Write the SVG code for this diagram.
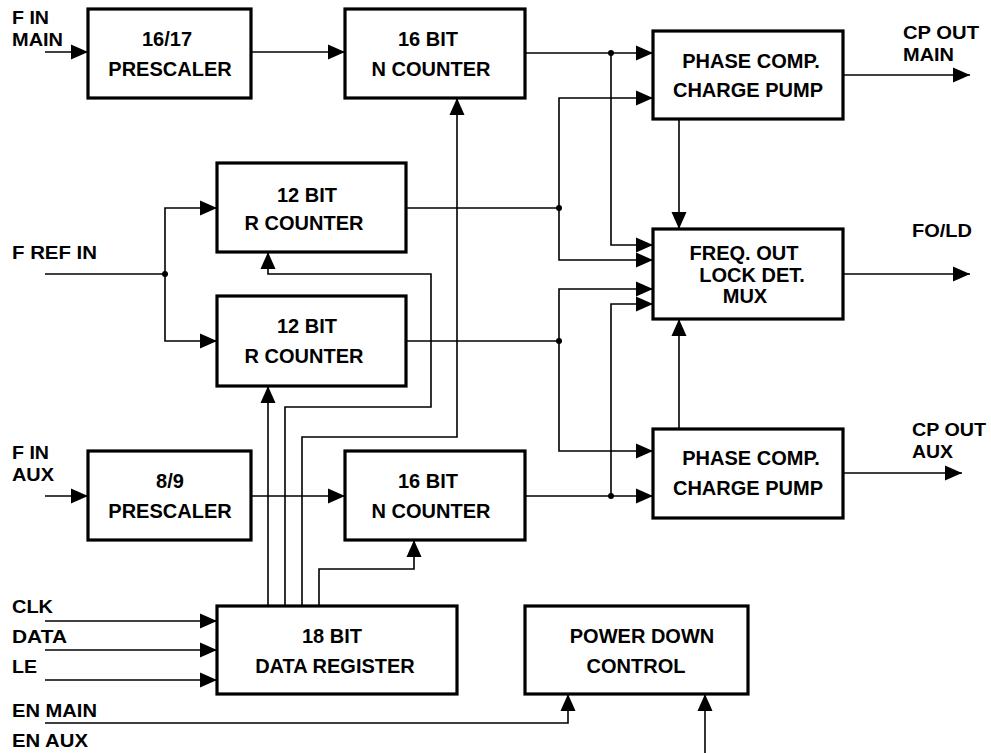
<svg xmlns="http://www.w3.org/2000/svg" width="991" height="753" viewBox="0 0 991 753">
<style>
.box{fill:#fff;stroke:#000;stroke-width:3.2}
.t{font-family:"Liberation Sans",Arial,sans-serif;font-weight:bold;font-size:20px;text-anchor:middle;fill:#000}
.l{font-family:"Liberation Sans",Arial,sans-serif;font-weight:bold;font-size:17.5px;fill:#000}
.w{fill:none;stroke:#000;stroke-width:1.6}
.a{marker-end:url(#ah)}
</style>
<defs>
<marker id="ah" markerUnits="userSpaceOnUse" markerWidth="17" markerHeight="16" refX="17" refY="7.5" orient="auto" viewBox="0 0 17 15">
<path d="M0,0 L17,7.5 L0,15 z" fill="#000"/>
</marker>
</defs>
<rect width="991" height="753" fill="#fff"/>

<g id="connectors">
<!-- inputs -->
<path class="w a" d="M45,52 H88"/>
<path class="w a" d="M251,52 H345"/>
<path class="w" d="M45,274 H165"/>
<path class="w a" d="M165,274 V208 H217"/>
<path class="w a" d="M165,274 V341 H217"/>
<path class="w a" d="M45,496 H88"/>
<path class="w a" d="M251,496 H345"/>
<path class="w a" d="M45,621 H217"/>
<path class="w a" d="M45,650 H217"/>
<path class="w a" d="M45,680 H217"/>
<!-- data register outputs -->
<path class="w a" d="M268,606 V386"/>
<path class="w a" d="M285,606 V407 H431 V274 H268 V252"/>
<path class="w a" d="M302,606 V437 H457 V98"/>
<path class="w a" d="M319,606 V569 H414 V540"/>
<!-- power down -->
<path class="w a" d="M45,723 H568 V694"/>
<path class="w a" d="M705,753 V694"/>
<!-- N counter main to phase comp -->
<path class="w a" d="M525,53 H653"/>
<path class="w a" d="M611,53 V245 H653"/>
<!-- R counter 1 -->
<path class="w" d="M406,208 H559"/>
<path class="w a" d="M559,208 V98 H653"/>
<path class="w a" d="M559,208 V260 H653"/>
<!-- R counter 2 -->
<path class="w" d="M406,341 H559"/>
<path class="w a" d="M559,341 V289 H653"/>
<path class="w a" d="M559,341 V451 H653"/>
<!-- N counter aux -->
<path class="w a" d="M525,496 H653"/>
<path class="w a" d="M611,496 V304 H653"/>
<!-- phase comps to freq out -->
<path class="w a" d="M679,119 V229"/>
<path class="w a" d="M679,429 V319"/>
<!-- outputs -->
<path class="w a" d="M843,75 H970"/>
<path class="w a" d="M843,274 H970"/>
<path class="w a" d="M843,473 H962"/>
<!-- junction dots -->
<circle cx="165" cy="274" r="3"/>
<circle cx="611" cy="53" r="3"/>
<circle cx="559" cy="208" r="3"/>
<circle cx="559" cy="341" r="3"/>
<circle cx="611" cy="496" r="3"/>
</g>

<g id="prescaler-main">
<rect class="box" x="88" y="9" width="163" height="89"/>
<text class="t" x="167" y="46">16/17</text>
<text class="t" x="170" y="76">PRESCALER</text>
</g>
<g id="ncounter-main">
<rect class="box" x="345" y="9" width="180" height="89"/>
<text class="t" x="428" y="46">16 BIT</text>
<text class="t" x="431" y="76">N COUNTER</text>
</g>
<g id="rcounter-1">
<rect class="box" x="217" y="163" width="189" height="89"/>
<text class="t" x="307" y="202">12 BIT</text>
<text class="t" x="304" y="230">R COUNTER</text>
</g>
<g id="rcounter-2">
<rect class="box" x="217" y="296" width="189" height="90"/>
<text class="t" x="307" y="333">12 BIT</text>
<text class="t" x="304" y="363">R COUNTER</text>
</g>
<g id="prescaler-aux">
<rect class="box" x="88" y="451" width="163" height="89"/>
<text class="t" x="170" y="488">8/9</text>
<text class="t" x="170" y="518">PRESCALER</text>
</g>
<g id="ncounter-aux">
<rect class="box" x="345" y="451" width="180" height="89"/>
<text class="t" x="428" y="488">16 BIT</text>
<text class="t" x="431" y="518">N COUNTER</text>
</g>
<g id="data-register">
<rect class="box" x="217" y="606" width="240" height="88"/>
<text class="t" x="332" y="643">18 BIT</text>
<text class="t" x="335" y="673">DATA REGISTER</text>
</g>
<g id="power-down">
<rect class="box" x="525" y="606" width="223" height="88"/>
<text class="t" x="642" y="643">POWER DOWN</text>
<text class="t" x="636" y="673">CONTROL</text>
</g>
<g id="phase-comp-main">
<rect class="box" x="653" y="31" width="190" height="88"/>
<text class="t" x="751" y="68">PHASE COMP.</text>
<text class="t" x="748" y="97">CHARGE PUMP</text>
</g>
<g id="freq-out">
<rect class="box" x="653" y="229" width="190" height="90"/>
<text class="t" x="744" y="260">FREQ. OUT</text>
<text class="t" x="752" y="282">LOCK DET.</text>
<text class="t" x="745" y="303">MUX</text>
</g>
<g id="phase-comp-aux">
<rect class="box" x="653" y="429" width="190" height="89"/>
<text class="t" x="751" y="465">PHASE COMP.</text>
<text class="t" x="748" y="495">CHARGE PUMP</text>
</g>

<g id="labels">
<text class="l" x="12" y="24" textLength="37" lengthAdjust="spacingAndGlyphs">F IN</text>
<text class="l" x="12" y="46" textLength="51" lengthAdjust="spacingAndGlyphs">MAIN</text>
<text class="l" x="12" y="259" textLength="85" lengthAdjust="spacingAndGlyphs">F REF IN</text>
<text class="l" x="12" y="459" textLength="37" lengthAdjust="spacingAndGlyphs">F IN</text>
<text class="l" x="12" y="481" textLength="42" lengthAdjust="spacingAndGlyphs">AUX</text>
<text class="l" x="12" y="613" textLength="41" lengthAdjust="spacingAndGlyphs">CLK</text>
<text class="l" x="12" y="643" textLength="55" lengthAdjust="spacingAndGlyphs">DATA</text>
<text class="l" x="12" y="673" textLength="25" lengthAdjust="spacingAndGlyphs">LE</text>
<text class="l" x="12" y="717" textLength="85" lengthAdjust="spacingAndGlyphs">EN MAIN</text>
<text class="l" x="12" y="747" textLength="76" lengthAdjust="spacingAndGlyphs">EN AUX</text>
<text class="l" x="903" y="39" textLength="76" lengthAdjust="spacingAndGlyphs">CP OUT</text>
<text class="l" x="903" y="61" textLength="51" lengthAdjust="spacingAndGlyphs">MAIN</text>
<text class="l" x="912" y="237" textLength="60" lengthAdjust="spacingAndGlyphs">FO/LD</text>
<text class="l" x="912" y="436" textLength="74" lengthAdjust="spacingAndGlyphs">CP OUT</text>
<text class="l" x="912" y="458" textLength="41" lengthAdjust="spacingAndGlyphs">AUX</text>
</g>
</svg>
